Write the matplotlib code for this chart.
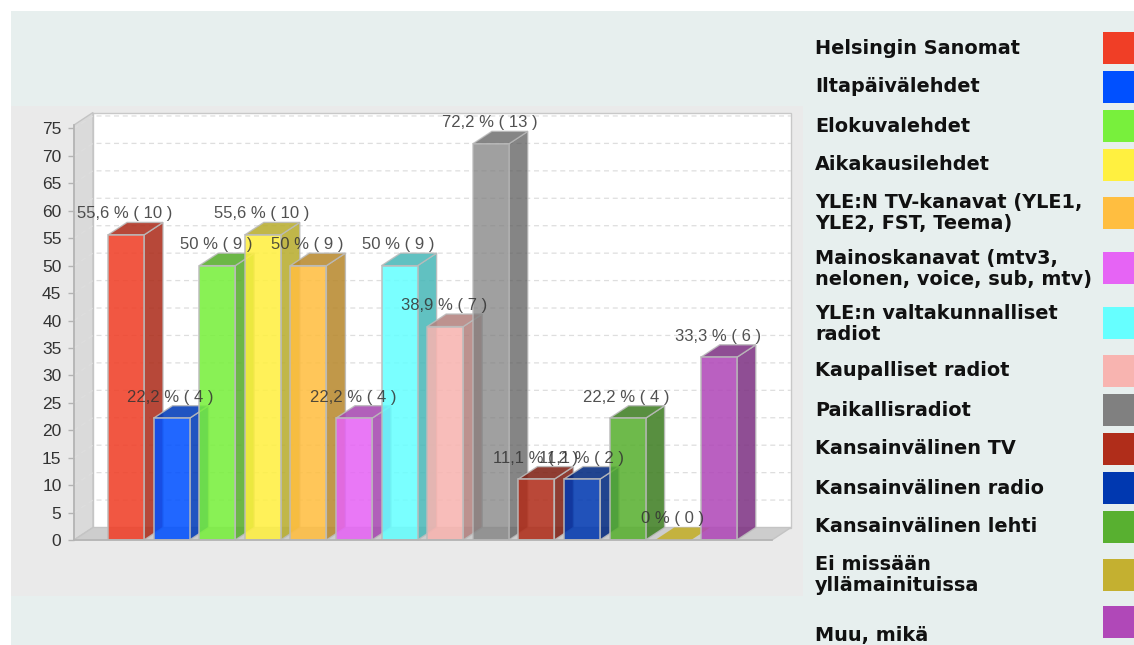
import matplotlib
matplotlib.use('Agg')
import matplotlib.pyplot as plt
from matplotlib.patches import Rectangle, Polygon

# data
categories = ['Helsingin Sanomat', 'Iltapäivälehdet', 'Elokuvalehdet', 'Aikakausilehdet',
              'YLE:N TV-kanavat (YLE1,\nYLE2, FST, Teema)',
              'Mainoskanavat (mtv3,\nnelonen, voice, sub, mtv)',
              'YLE:n valtakunnalliset\nradiot', 'Kaupalliset radiot', 'Paikallisradiot',
              'Kansainvälinen TV', 'Kansainvälinen radio', 'Kansainvälinen lehti',
              'Ei missään\nyllämainituissa', 'Muu, mikä']
percents = [55.6, 22.2, 50, 55.6, 50, 22.2, 50, 38.9, 72.2, 11.1, 11.1, 22.2, 0, 33.3]
counts = [10, 4, 9, 10, 9, 4, 9, 7, 13, 2, 2, 4, 0, 6]
colors = ['#F03E26', '#0050FF', '#78F03C', '#FFF040', '#FFBE40', '#E664F5', '#66FFFF',
          '#F8B4B0', '#808080', '#B02D1A', '#0038B0', '#58B030', '#C4B030', '#B048B8']
y_ticks = list(range(0, 80, 5))

W, H = 1134, 645
legend_y = [48, 87, 126, 165, 213, 269, 324, 371, 410, 449, 488, 527, 575, 636]
swatch_y = [48, 87, 126, 165, 213, 268, 323, 371, 410, 449, 488, 527, 575, 622]

fig = plt.figure(figsize=(W / 100, H / 100), dpi=100, facecolor='white')


def px_rect(x, y, w, h, color):
    # rectangle given in picture pixels (y down)
    fig.patches.append(Rectangle((x / W, 1 - (y + h) / H), w / W, h / H, color=color, lw=0,
                                 transform=fig.transFigure, figure=fig, zorder=-1))


px_rect(11, 11, W - 11, H - 11, '#E7EFEE')
px_rect(11, 106, 792, 490, '#EAEAEA')

# front plane of the 3d box
left, right, bottom, top = 74, 772, 540, 125
ax = fig.add_axes([left / W, 1 - bottom / H, (right - left) / W, (bottom - top) / H])
spacing = 45.6
first = 126
ax.set_xlim((left - first) / spacing, (right - first) / spacing)
ymax = (bottom - top) / 5.487
ax.set_ylim(0, ymax)
ax.patch.set_alpha(0)

dx = 19 / spacing
dy = 12.5 / 5.487
x0, x1 = ax.get_xlim()
bw = 36 / spacing

# walls
ax.add_patch(Polygon([(x0 + dx, dy), (x1 + dx, dy), (x1 + dx, ymax + dy), (x0 + dx, ymax + dy)],
                     fc='white', ec='#C8C8C8', lw=1, clip_on=False, zorder=1))
ax.add_patch(Polygon([(x0, 0), (x0 + dx, dy), (x0 + dx, ymax + dy), (x0, ymax)],
                     fc='#DADADA', ec='#C4C4C4', lw=1, clip_on=False, zorder=1))
ax.add_patch(Polygon([(x0, 0), (x0 + dx, dy), (x1 + dx, dy), (x1, 0)],
                     fc='#CDCDCD', ec='#C4C4C4', lw=1, clip_on=False, zorder=1))

# grid on the walls
for v in y_ticks[1:]:
    ax.plot([x0, x0 + dx, x1 + dx], [v, v + dy, v + dy], color='#DEDEDE', lw=0.9,
            ls=(0, (4, 3)), clip_on=False, zorder=2)

# bars
for i, (p, n, c) in enumerate(zip(percents, counts, colors)):
    l, r = i - bw / 2, i + bw / 2
    z = 3 + i
    side_col = tuple(0.72 * k for k in matplotlib.colors.to_rgb(c))
    # grey bar looks paler than the others
    a = 0.75 if c == '#808080' else 0.87
    if p > 0:
        ax.add_patch(Polygon([(r, 0), (r + dx, dy), (r + dx, p + dy), (r, p)], fc=side_col,
                             ec='#BBBBBB', lw=1, alpha=a, clip_on=False, zorder=z))
        ax.add_patch(Polygon([(l, p), (l + dx, p + dy), (r + dx, p + dy), (r, p)], fc=side_col,
                             ec='#BBBBBB', lw=1, alpha=a, clip_on=False, zorder=z))
        ax.bar(i, p, width=bw, color=c, alpha=a, edgecolor='#BBBBBB', lw=1.2, zorder=z)
    else:
        # empty bar only shows its lid lying on the floor
        ax.add_patch(Polygon([(l, p), (l + dx, p + dy), (r + dx, p + dy), (r, p)], fc=c,
                             ec='none', alpha=0.9, clip_on=False, zorder=z))

# value labels stay above all bars
for i, (p, n) in enumerate(zip(percents, counts)):
    txt = f'{p:g}'.replace('.', ',') + f' % ( {n} )'
    ax.annotate(txt, (i, p), xytext=(-1, 21), textcoords='offset pixels', ha='center', va='center',
                fontsize=12, family='Liberation Sans', color='#333333', alpha=0.85, zorder=30,
                annotation_clip=False)

for s in ['top', 'right']:
    ax.spines[s].set_visible(False)
for s in ['left', 'bottom']:
    ax.spines[s].set_color('#B4B4B4')
    ax.spines[s].set_linewidth(1.2)
    ax.spines[s].set_zorder(25)
ax.set_xticks([])
ax.set_yticks(y_ticks)
ax.tick_params(axis='y', length=4, width=1, color='#B4B4B4', pad=5, labelsize=12.5, labelcolor='#333333')
for t in ax.get_yticklabels():
    t.set_family('Liberation Sans')

# legend
for name, c, ty, sy in zip(categories, colors, legend_y, swatch_y):
    fig.text(815 / W, 1 - ty / H, name, ha='left', va='center', fontsize=13.9,
             family='DejaVu Sans', weight='bold', color='#111111', linespacing=1.07)
    px_rect(1103, sy - 16, 31, 32, c)

fig.savefig('out.png', dpi=100, facecolor=fig.get_facecolor())
